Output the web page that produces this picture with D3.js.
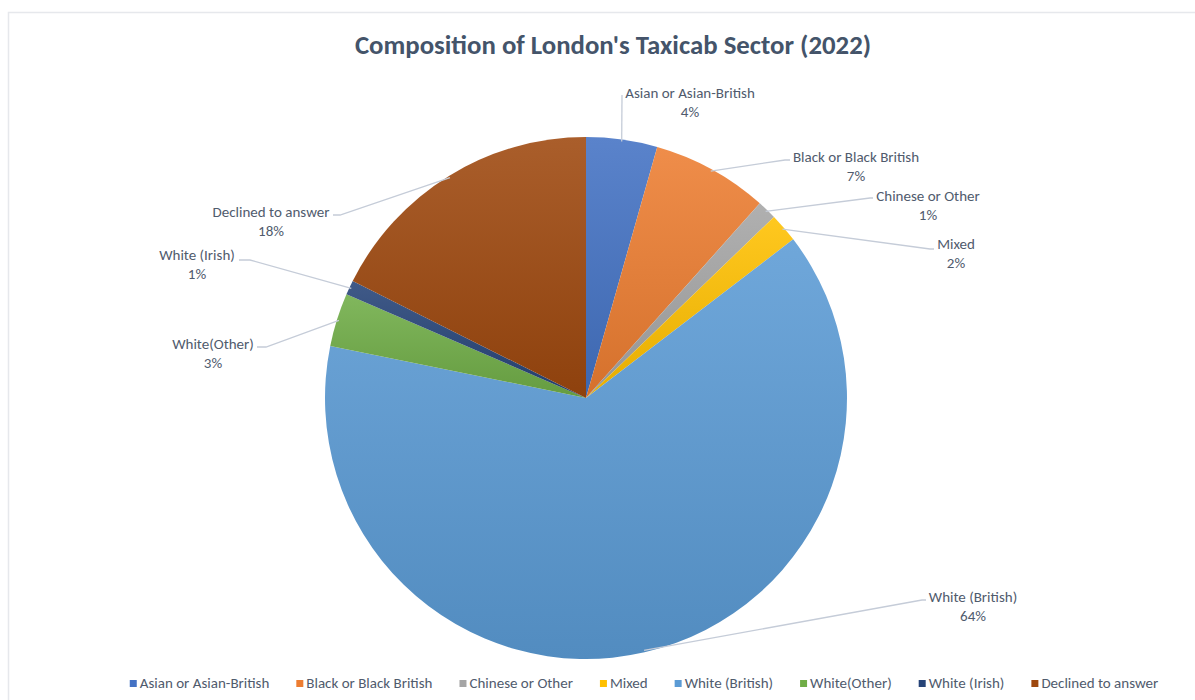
<!DOCTYPE html>
<html>
<head>
<meta charset="utf-8">
<script src="https://cdn.jsdelivr.net/npm/d3@7"></script>
<style>
	body { margin: 0; background: #fff; }
	svg { display: block; }
</style>
</head>
<body>
<svg width="1195" height="700"></svg>
<script>
const categories = [
	'Asian or Asian-British',
	'Black or Black British',
	'Chinese or Other',
	'Mixed',
	'White (British)',
	'White(Other)',
	'White (Irish)',
	'Declined to answer',
];
// shares (labels show them rounded)
const shares = [4.4, 7.2, 1.2, 1.8, 63.6, 3.3, 0.9, 17.6];
const shareLabels = ['4%', '7%', '1%', '2%', '64%', '3%', '1%', '18%'];
const sliceColours = ['#4472C4', '#ED7D31', '#A5A5A5', '#FFC000', '#5B9BD5', '#70AD47', '#264478', '#9E480E'];

// label placement: text centre x, first line mid y, leader elbow and end
const labelLayout = [
	{ x: 690, y: 93, elbow: [622, 95], end: [622, 95] },
	{ x: 856, y: 157, elbow: [785, 160], end: [790, 160] },
	{ x: 928, y: 196, elbow: [870, 198], end: [873, 198] },
	{ x: 956, y: 244, elbow: [930, 249], end: [934, 249] },
	{ x: 973, y: 597, elbow: [922, 600], end: [926, 600] },
	{ x: 213, y: 344, elbow: [266, 347], end: [257, 347] },
	{ x: 197, y: 255, elbow: [250, 260], end: [239, 260] },
	{ x: 271, y: 212, elbow: [340, 215], end: [333, 215] },
];

const font = 'Carlito, Lato, "Open Sans", sans-serif';
const textColour = '#505b6d';

const svg = d3.select('svg');
const cx = 586, cy = 398, radius = 261;

const data = categories.map((c, i) => ({
	name: c,
	value: shares[i],
	label: shareLabels[i],
	colour: sliceColours[i],
	layout: labelLayout[i],
}));

// faint frame
svg.append('path')
	.attr('d', 'M8.5,700 V12.5 H1195')
	.attr('fill', 'none')
	.attr('stroke', '#e6e8ec')
	.attr('stroke-width', 1.5);

svg.append('text')
	.attr('x', 613)
	.attr('y', 54)
	.attr('text-anchor', 'middle')
	.attr('font-family', font)
	.attr('font-size', 26.8)
	.attr('font-weight', 700)
	.attr('fill', '#44546A')
	.text("Composition of London's Taxicab Sector (2022)");

const defs = svg.append('defs');
data.forEach((d, i) => {
	const g = defs.append('linearGradient')
		.attr('id', `grad-${i}`)
		.attr('x1', 0).attr('y1', 0)
		.attr('x2', 0).attr('y2', 1);
	g.append('stop').attr('offset', '0%')
		.attr('stop-color', d3.interpolateRgb(d.colour, '#ffffff')(0.12));
	g.append('stop').attr('offset', '100%')
		.attr('stop-color', d3.interpolateRgb(d.colour, '#000000')(0.1));
});

const pie = d3.pie()
	.sort(null)
	.value(d => d.value);

const arc = d3.arc()
	.innerRadius(0)
	.outerRadius(radius);

const arcs = pie(data);

const chart = svg.append('g')
	.attr('transform', `translate(${cx},${cy})`);

chart.selectAll('path')
	.data(arcs)
	.enter()
	.append('path')
	.attr('d', arc)
	.attr('fill', (d, i) => `url(#grad-${i})`);

// leader lines from the middle of each slice's rim
const rimPoint = d => {
	const a = (d.startAngle + d.endAngle) / 2;
	return [cx + Math.sin(a) * (radius - 2), cy - Math.cos(a) * (radius - 2)];
};

svg.append('g')
	.selectAll('polyline')
	.data(arcs)
	.enter()
	.append('polyline')
	.attr('points', d => [rimPoint(d), d.data.layout.elbow, d.data.layout.end].map(p => p.join(',')).join(' '))
	.attr('fill', 'none')
	.attr('stroke', '#c5ccd8')
	.attr('stroke-width', 1.3);

const labels = svg.append('g')
	.selectAll('text')
	.data(arcs)
	.enter()
	.append('text')
	.attr('text-anchor', 'middle')
	.attr('font-family', font)
	.attr('font-size', 15)
	.attr('fill', textColour);

labels.append('tspan')
	.attr('x', d => d.data.layout.x)
	.attr('y', d => d.data.layout.y + 5)
	.text(d => d.data.name);

labels.append('tspan')
	.attr('x', d => d.data.layout.x)
	.attr('y', d => d.data.layout.y + 24)
	.text(d => d.data.label);

// legend along the bottom, centred under the chart area
const legend = svg.append('g')
	.attr('font-family', font)
	.attr('font-size', 15)
	.attr('fill', textColour);

const items = legend.selectAll('g')
	.data(data)
	.enter()
	.append('g');

items.append('rect')
	.attr('width', 7)
	.attr('height', 7)
	.attr('y', -8)
	.attr('fill', d => d.colour);

items.append('text')
	.attr('x', 10)
	.attr('y', 0)
	.text(d => d.name);

let offset = 0;
const gap = 27;
const positions = [];
items.each(function() {
	positions.push(offset);
	offset += this.getBBox().width + gap;
});
const totalWidth = offset - gap;
const legendLeft = 644 - totalWidth / 2;
items.attr('transform', (d, i) => `translate(${legendLeft + positions[i]},688)`);
</script>
</body>
</html>
